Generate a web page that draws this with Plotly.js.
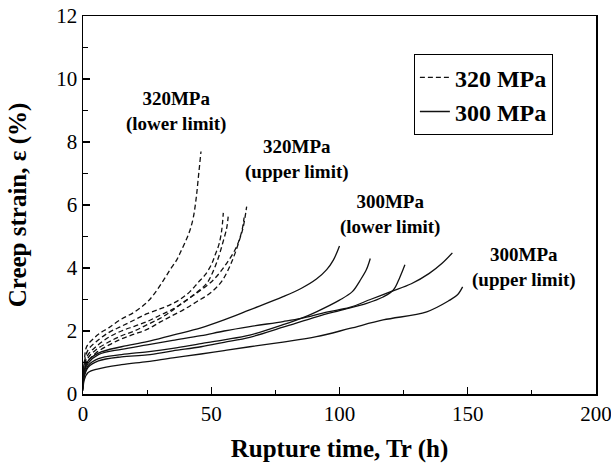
<!DOCTYPE html>
<html>
<head>
<meta charset="utf-8">
<script src="https://cdn.plot.ly/plotly-3.0.1.min.js"></script>
<style>html,body{margin:0;padding:0;background:#fff}#chart{width:611px;height:463px}</style>
</head>
<body>
<div id="chart"></div>
<script>
// 320 MPa (dashed) curves: time (h) and strain (%)
const d1x = [0,0.5,1.4,4,6.6,10,14.4,20,24.8,28,31.3,34,36.5,38,40,41.7,43,44.1,45,46];
const d1y = [0.4,1.0,1.5,1.75,1.93,2.1,2.35,2.6,2.9,3.2,3.6,3.95,4.25,4.5,4.85,5.2,5.6,6.2,6.9,7.7];
const d2x = [0,0.5,2,5,10,15,20,25,30,33.9,37.8,41.7,45,47.6,50,51.5,53,54,54.7];
const d2y = [0.5,1.0,1.4,1.65,1.95,2.15,2.35,2.55,2.7,2.83,3.0,3.25,3.55,3.78,4.1,4.41,4.75,5.15,5.75];
const d3x = [0,0.5,2,5,10,15,20,25,30,34,37.8,43,48.2,50.5,52.7,54.5,56,56.6];
const d3y = [0.45,0.9,1.25,1.5,1.8,2.0,2.15,2.3,2.5,2.65,2.83,3.14,3.51,3.85,4.31,4.8,5.26,5.63];
const d4x = [0,0.5,2,5,10,15,20,25,30,33.9,39.1,44.3,49.5,54,58,61.2,62.5,63.8];
const d4y = [0.35,0.8,1.05,1.3,1.55,1.75,1.9,2.05,2.28,2.45,2.67,2.93,3.2,3.57,4.2,4.94,5.31,5.95];
const d5x = [0,0.5,2,5,10,15,20,25,30,33.9,38,44.3,50.8,56,59.9,62,62.8];
const d5y = [0.4,0.85,1.15,1.4,1.65,1.85,2.0,2.2,2.4,2.6,2.85,3.2,3.62,4.15,4.68,5.2,5.6];

// 300 MPa (solid) curves
const s1x = [0,0.5,2,6,15,25,35,46,55,65,78,85,91,95,97.6,100];
const s1y = [0.3,0.75,1.05,1.3,1.5,1.66,1.87,2.1,2.35,2.67,3.09,3.35,3.65,3.95,4.25,4.7];
const s2x = [0,0.5,2,6,15,25,35,46,55,65,78,85,91,100,105,108,110.5,112];
const s2y = [0.2,0.6,0.9,1.12,1.25,1.34,1.45,1.6,1.72,1.87,2.2,2.4,2.61,2.98,3.25,3.6,3.95,4.3];
const s3x = [0,0.5,2,6,15,25,35,46,55,65,78,91,100,110.6,117,121,123.5,125.5];
const s3y = [0.15,0.55,0.85,1.05,1.18,1.24,1.37,1.5,1.64,1.8,2.12,2.45,2.65,2.88,3.08,3.3,3.7,4.1];
const s4x = [0,0.5,2,6,15,25,35,46,55,65,78,85,95,104,112,120,128,135,140,144];
const s4y = [0.25,0.7,0.98,1.25,1.42,1.56,1.7,1.85,2.0,2.14,2.3,2.4,2.6,2.75,3.0,3.25,3.5,3.83,4.15,4.48];
const s5x = [0,0.5,2,6,15,25,35,46,55,65,78,91,104,117,134,143,146,148];
const s5y = [0.1,0.45,0.68,0.8,0.93,1.03,1.15,1.27,1.38,1.5,1.65,1.82,2.08,2.35,2.61,2.98,3.15,3.4];

const xTicks = [0,50,100,150,200];
const yTicks = [0,2,4,6,8,10,12];
const legendNames = ['320 MPa','300 MPa'];
const notes = [
  {x: 36.3, y: 8.97, text: '320MPa<br>(lower limit)'},
  {x: 83.6, y: 7.43, text: '320MPa<br>(upper limit)'},
  {x: 119.7, y: 5.70, text: '300MPa<br>(lower limit)'},
  {x: 171.9, y: 4.03, text: '300MPa<br>(upper limit)'}
];

const dashed = [[d1x,d1y],[d2x,d2y],[d3x,d3y],[d4x,d4y],[d5x,d5y]];
const solid = [[s1x,s1y],[s2x,s2y],[s3x,s3y],[s4x,s4y],[s5x,s5y]];

const traces = [];
dashed.forEach((c,i) => traces.push({
  x: c[0], y: c[1], type: 'scatter', mode: 'lines',
  line: {color: '#111', width: 1.3, dash: '5px,3px', shape: 'spline', smoothing: 1},
  name: legendNames[0], legendgroup: 'a', showlegend: i === 0
}));
solid.forEach((c,i) => traces.push({
  x: c[0], y: c[1], type: 'scatter', mode: 'lines',
  line: {color: '#111', width: 1.3, shape: 'spline', smoothing: 1},
  name: legendNames[1], legendgroup: 'b', showlegend: i === 0
}));

const serif = '"Liberation Serif", "Times New Roman", serif';
const axisCommon = {
  showline: true, linecolor: '#000', linewidth: 1.5, mirror: true,
  ticks: 'inside', ticklen: 7, tickwidth: 1.3, tickcolor: '#000',
  showgrid: false, zeroline: false, ticklabeloverflow: 'allow',
  tickfont: {family: serif, size: 21, color: '#000'}
};

const layout = {
  width: 611, height: 463,
  margin: {l: 83, r: 15, t: 16, b: 69},
  paper_bgcolor: '#fff', plot_bgcolor: '#fff',
  font: {family: serif, color: '#000'},
  xaxis: Object.assign({}, axisCommon, {
    range: [0, 200], tickvals: xTicks, ticktext: xTicks.map(String),
    minor: {ticks: 'inside', dtick: 25, ticklen: 4, tickwidth: 1.2, tickcolor: '#000', showgrid: false},
    title: {text: '<b>Rupture time, Tr (h)</b>', font: {family: serif, size: 25, color: '#000'}, standoff: 22}
  }),
  yaxis: Object.assign({}, axisCommon, {
    range: [0, 12], tickvals: yTicks, ticktext: yTicks.map(String),
    minor: {ticks: 'inside', dtick: 1, ticklen: 5, tickwidth: 1.2, tickcolor: '#000', showgrid: false},
    title: {text: '<b>Creep strain, ε (%)</b>', font: {family: serif, size: 25, color: '#000'}, standoff: 22}
  }),
  showlegend: true,
  legend: {
    x: 0.645, y: 0.899, xanchor: 'left', yanchor: 'top',
    bordercolor: '#000', borderwidth: 1, bgcolor: '#fff',
    font: {family: serif, size: 24, color: '#000', weight: 'bold'},
    tracegroupgap: 0, itemwidth: 30
  },
  annotations: notes.map(n => ({
    x: n.x, y: n.y, xref: 'x', yref: 'y', text: '<b>' + n.text + '</b>',
    showarrow: false, align: 'center',
    font: {family: serif, size: 19, color: '#000'}
  }))
};

Plotly.newPlot('chart', traces, layout, {displayModeBar: false, staticPlot: true});
</script>
</body>
</html>
